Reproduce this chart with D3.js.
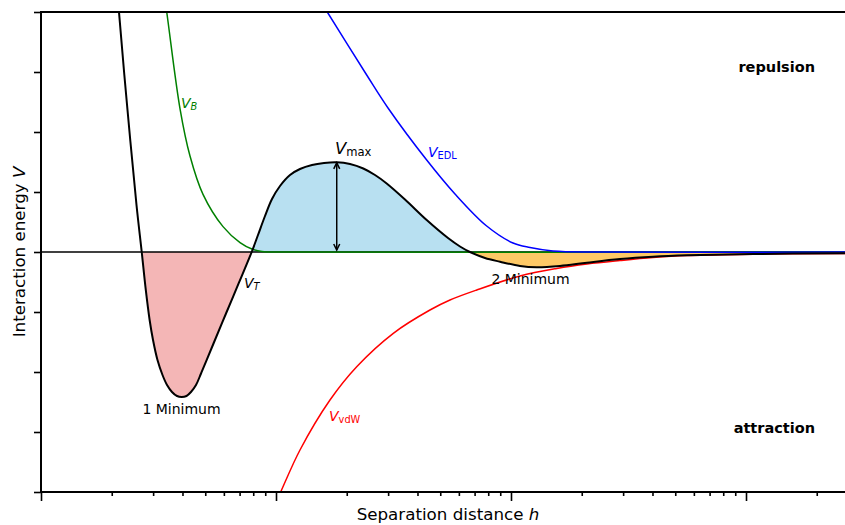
<!DOCTYPE html>
<html>
<head>
<meta charset="utf-8">
<script src="https://cdn.jsdelivr.net/npm/d3@7"></script>
<style>
  body { margin: 0; background: #fff; }
  svg { display: block; font-family: 'DejaVu Sans', sans-serif; }
</style>
</head>
<body>
<svg id="chart" width="845" height="525"></svg>
<script>
// curves: separation distance h (log axis) and energy V
const vtH = [2.106, 2.147, 2.334, 2.549, 2.683, 2.792, 2.899, 2.997, 3.131, 3.289, 3.438, 3.609, 3.79, 3.969,
  4.159, 4.347, 4.566, 4.797, 5.062, 5.421, 6.127, 6.961, 7.88,
  8.383, 8.979, 9.616, 10.4, 11.47, 12.65, 14.23, 16.01, 18.13, 20.65, 23.52, 26.38, 29.58, 35.39, 43.78, 53.95, 60.67, 66.9,
  77.5, 89.8, 109.2, 128.6, 161.6, 210.6, 290.9, 402, 561, 1071, 2638];
const vtV = [4.53, 4.0, 2.367, 0.783, 0, -0.633, -1.133, -1.467, -1.8, -2.05, -2.217, -2.333, -2.4, -2.417,
  -2.4, -2.333, -2.217, -2.025, -1.808, -1.525, -1.025, -0.508, 0,
  0.283, 0.6, 0.883, 1.1, 1.283, 1.383, 1.45, 1.483, 1.495, 1.467, 1.392, 1.283, 1.142, 0.875, 0.533, 0.233, 0.092, 0,
  -0.1, -0.162, -0.233, -0.255, -0.233, -0.178, -0.117, -0.078, -0.055, -0.033, -0.022];

const vbH = [3.273, 3.427, 3.905, 4.306, 4.891, 5.951, 7.03, 7.9, 8.717, 11.47, 2638];
const vbV = [4.53, 4.0, 2.387, 1.6, 0.961, 0.423, 0.157, 0.05, 0.008, 0, 0];

const vedlH = [13.65, 16.53, 24.32, 29.97, 43.78, 57.77, 78.8, 102, 120.5, 150.9, 239, 2638];
const vedlV = [4.53, 4.0, 2.95, 2.4, 1.533, 0.967, 0.433, 0.15, 0.075, 0.017, 0, 0];

const vvdwH = [9.25, 10.47, 12.65, 16.97, 22.05, 31.56, 45.2, 55.0, 71.5, 109.2, 156.5, 210.6, 290.9, 402, 561, 1071, 2638];
const vvdwV = [-4.47, -4.0, -3.3, -2.467, -1.912, -1.355, -0.967, -0.8, -0.633, -0.4, -0.275, -0.2, -0.142, -0.092, -0.058, -0.037, -0.023];

const yTicks = [-4, -3, -2, -1, 0, 1, 2, 3, 4];
const xMajor = [1, 10, 100, 1000];
const xMinor = [2, 3, 4, 5, 6, 7, 8, 9, 20, 30, 40, 50, 60, 70, 80, 90,
  200, 300, 400, 500, 600, 700, 800, 900, 2000];

const svg = d3.select('#chart');
const pLeft = 41, pRight = 845, pTop = 12, pBottom = 492;

const x = d3.scaleLog().domain([1, 2638]).range([pLeft, pRight]);
const y = d3.scaleLinear().domain([-4, 4]).range([pBottom, pTop]);

const toPts = (hs, vs) => hs.map((h, i) => ({h: h, v: vs[i]}));
const vt = toPts(vtH, vtV);
const smooth = d3.curveCatmullRom.alpha(0.5);

const line = d3.line()
    .x((d) => x(d.h))
    .y((d) => y(d.v))
    .curve(smooth);

const area = d3.area()
    .x((d) => x(d.h))
    .y0(y(0))
    .y1((d) => y(d.v))
    .curve(smooth);

const defs = svg.append('defs');
defs.append('clipPath').attr('id', 'plot')
  .append('rect').attr('x', pLeft).attr('y', pTop).attr('width', pRight - pLeft).attr('height', pBottom - pTop);

// zero crossings of V_T split the filled regions
const zeros = vt.filter((d) => d.v === 0).map((d) => d.h);
const regions = [
  {from: zeros[0], to: zeros[1], fill: '#f4b6b6'},
  {from: zeros[1], to: zeros[2], fill: '#b8e0f1'},
  {from: zeros[2], to: 2638, fill: '#fec966'}
];
regions.forEach((r, i) => {
  defs.append('clipPath').attr('id', 'reg' + i)
    .append('rect')
    .attr('x', x(r.from)).attr('y', pTop)
    .attr('width', x(r.to) - x(r.from)).attr('height', pBottom - pTop);
  svg.append('path')
    .datum(vt)
    .attr('clip-path', 'url(#reg' + i + ')')
    .attr('d', area)
    .attr('fill', r.fill);
});

// zero line
svg.append('line')
  .attr('x1', pLeft).attr('x2', pRight)
  .attr('y1', y(0)).attr('y2', y(0))
  .attr('stroke', '#000').attr('stroke-width', 1.6);

const plot = svg.append('g').attr('clip-path', 'url(#plot)');

[[vbH, vbV, 'green'], [vedlH, vedlV, 'blue'], [vvdwH, vvdwV, 'red']].forEach((c) => {
  plot.append('path')
    .datum(toPts(c[0], c[1]))
    .attr('d', line)
    .attr('fill', 'none')
    .attr('stroke', c[2])
    .attr('stroke-width', 1.5);
});

plot.append('path')
  .datum(vt)
  .attr('d', line)
  .attr('fill', 'none')
  .attr('stroke', '#000')
  .attr('stroke-width', 2);

// V_max arrow, at the top of the energy barrier
const peak = vt.filter((d) => d.h > zeros[1] && d.h < zeros[2])
  .reduce((a, b) => (b.v > a.v ? b : a));
const ax = x(peak.h), ay1 = y(peak.v) + 0.5, ay0 = y(0) - 2;
const arrow = svg.append('g').attr('stroke', '#000').attr('stroke-width', 1.5).attr('fill', 'none');
arrow.append('line').attr('x1', ax).attr('x2', ax).attr('y1', ay0).attr('y2', ay1);
arrow.append('path').attr('d', `M${ax - 3},${ay1 + 6}L${ax},${ay1}L${ax + 3},${ay1 + 6}`);
arrow.append('path').attr('d', `M${ax - 3},${ay0 - 6}L${ax},${ay0}L${ax + 3},${ay0 - 6}`);

// axes
const yAxis = svg.append('g')
  .attr('transform', 'translate(' + pLeft + ',0)')
  .call(d3.axisLeft(y).tickValues(yTicks).tickSize(7).tickFormat(''));
const xAxis = svg.append('g')
  .attr('transform', 'translate(0,' + pBottom + ')')
  .call(d3.axisBottom(x).tickValues(xMajor).tickSize(9).tickFormat(''));
const xMinorAxis = svg.append('g')
  .attr('transform', 'translate(0,' + pBottom + ')')
  .call(d3.axisBottom(x).tickValues(xMinor).tickSize(4).tickFormat(''));
[yAxis, xAxis, xMinorAxis].forEach((a) => {
  a.select('.domain').remove();
  a.selectAll('line').attr('stroke', '#000').attr('stroke-width', 1.6);
});

const spines = svg.append('g').attr('stroke', '#000').attr('stroke-width', 2);
spines.append('line').attr('x1', pLeft).attr('x2', pLeft).attr('y1', pTop - 1).attr('y2', pBottom + 1);
spines.append('line').attr('x1', pLeft - 1).attr('x2', pRight).attr('y1', pTop).attr('y2', pTop);
spines.append('line').attr('x1', pLeft - 1).attr('x2', pRight).attr('y1', pBottom).attr('y2', pBottom);

// labels with subscripts
const subLabel = (px, py, sub, size, color, subItalic) => {
  const t = svg.append('text')
    .attr('x', px).attr('y', py)
    .attr('fill', color)
    .style('font-size', size + 'px');
  t.append('tspan').style('font-style', 'italic').text('V');
  t.append('tspan')
    .attr('dy', size * 0.14)
    .style('font-size', (size * 0.7) + 'px')
    .style('font-style', subItalic ? 'italic' : 'normal')
    .text(sub);
};
subLabel(181, 108, 'B', 14, 'green', true);
subLabel(428, 157, 'EDL', 14, 'blue', false);
subLabel(335, 154, 'max', 16.5, '#000', false);
subLabel(244, 288, 'T', 14, '#000', true);
subLabel(329, 421, 'vdW', 14, 'red', false);

svg.append('text').attr('x', 181.5).attr('y', 414).attr('text-anchor', 'middle')
  .style('font-size', '14px').text('1 Minimum');
svg.append('text').attr('x', 530.5).attr('y', 284).attr('text-anchor', 'middle')
  .style('font-size', '14px').text('2 Minimum');

svg.append('text').attr('x', 815).attr('y', 72).attr('text-anchor', 'end')
  .style('font-size', '14.5px').style('font-weight', 'bold').text('repulsion');
svg.append('text').attr('x', 815).attr('y', 433).attr('text-anchor', 'end')
  .style('font-size', '14.5px').style('font-weight', 'bold').text('attraction');

const xl = svg.append('text').attr('x', 448).attr('y', 520).attr('text-anchor', 'middle')
  .style('font-size', '16.7px');
xl.append('tspan').text('Separation distance ');
xl.append('tspan').style('font-style', 'italic').text('h');

const yl = svg.append('text').attr('transform', 'translate(25,252) rotate(-90)')
  .attr('text-anchor', 'middle').style('font-size', '16.7px');
yl.append('tspan').text('Interaction energy ');
yl.append('tspan').style('font-style', 'italic').text('V');
</script>
</body>
</html>
